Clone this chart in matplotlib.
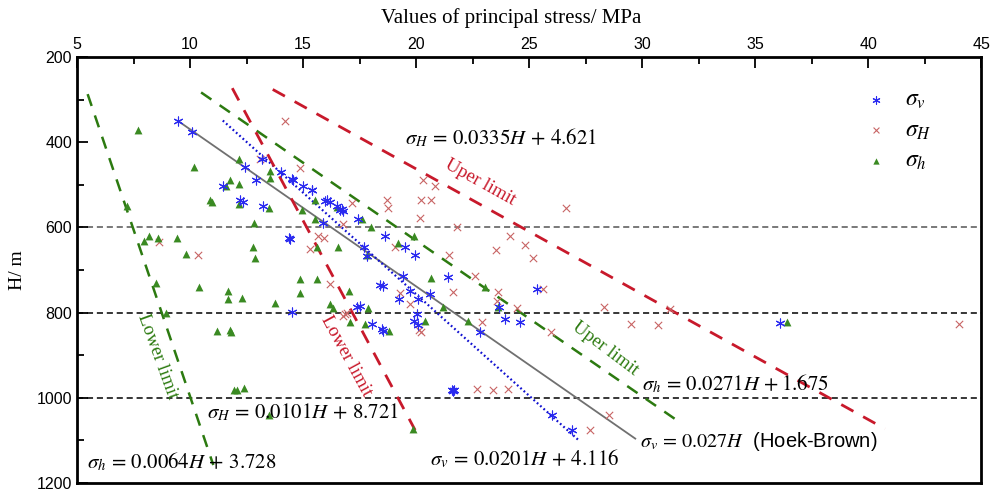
import matplotlib
matplotlib.use("Agg")
import matplotlib.pyplot as plt
import numpy as np

plt.rcParams["mathtext.fontset"] = "stix"
plt.rcParams["font.family"] = "Liberation Sans"

# measured points: (stress in MPa, depth H in m)
sv_x = [9.47, 10.09, 12.42, 11.45, 12.23, 12.33, 12.93, 13.19, 14.04, 14.51, 15.0, 13.23,
        14.37, 14.42, 14.57, 15.41, 15.97, 16.19, 16.49, 16.71, 15.87, 17.45, 18.63, 17.7,
        17.82, 19.51, 19.96, 18.41, 18.52, 19.44, 19.26, 19.73, 20.62, 17.37, 17.52, 14.5,
        15.38, 16.04, 16.64, 16.78, 21.43, 20.1, 20.06, 19.91, 20.1, 18.04, 18.48, 18.55,
        23.68, 23.94, 24.6, 22.83, 21.57, 21.68, 21.62, 25.34, 26.0, 26.89, 36.1]
sv_H = [351, 375, 459, 502, 536, 541, 489, 439, 470, 486, 502, 549,
        624, 628, 488, 513, 537, 540, 549, 556, 589, 580, 620, 647,
        667, 647, 665, 736, 738, 714, 768, 749, 757, 788, 784, 798,
        511, 535, 559, 562, 716, 768, 803, 819, 829, 827, 839, 843,
        788, 815, 821, 845, 981, 983, 985, 745, 1041, 1075, 825]

sH_x = [14.19, 10.34, 8.61, 13.11, 14.85, 15.68, 15.93, 15.31, 16.19, 16.78, 20.33, 20.84,
        18.7, 18.74, 20.2, 20.65, 20.18, 17.15, 16.75, 19.07, 21.8, 24.16, 24.82, 23.52,
        21.47, 22.61, 21.65, 23.64, 26.64, 25.19, 25.63, 23.57, 24.46, 28.32, 31.24, 29.5,
        30.72, 25.96, 28.55, 22.9, 27.7, 44.03, 22.68, 23.39, 24.08, 20.15, 20.22, 19.73,
        16.86, 19.3, 16.93]
sH_H = [351, 665, 634, 439, 460, 620, 626, 650, 732, 807, 489, 502,
        535, 554, 535, 535, 579, 542, 591, 647, 599, 620, 641, 653,
        665, 715, 751, 751, 554, 673, 745, 772, 790, 786, 792, 827,
        829, 845, 1040, 821, 1075, 827, 979, 981, 979, 840, 845, 780,
        804, 754, 800]

sh_x = [7.7, 10.16, 12.15, 11.78, 11.6, 12.15, 13.53, 13.56, 10.87, 10.97, 12.18, 13.51,
        12.82, 7.21, 8.17, 7.95, 8.6, 9.42, 9.84, 12.79, 12.89, 10.38, 11.66, 12.3,
        11.66, 14.85, 8.5, 11.19, 11.76, 11.8, 8.95, 11.93, 12.1, 12.37, 13.48, 17.05,
        16.19, 16.34, 17.89, 17.08, 17.74, 18.82, 20.4, 21.2, 22.31, 19.85, 23.64, 15.53,
        16.49, 17.6, 17.99, 19.92, 19.22, 17.82, 16.53, 15.63, 14.87, 15.63, 23.05, 20.66,
        14.96, 15.53, 13.76, 36.4]
sh_H = [372, 459, 439, 489, 502, 499, 468, 484, 535, 541, 546, 554,
        589, 549, 620, 632, 624, 626, 663, 647, 671, 739, 749, 765,
        767, 755, 731, 843, 840, 845, 801, 981, 981, 977, 1040, 749,
        780, 790, 790, 823, 827, 843, 819, 788, 819, 1074, 788, 536,
        552, 580, 599, 620, 637, 665, 647, 647, 722, 722, 741, 718,
        558, 580, 778, 823]

# fitted / limit lines, end points (MPa, m)
hb_x, hb_H = [9.47, 29.7], [350, 1096]
fit_v_x, fit_v_H = [11.45, 27.2], [349, 1100]
up_h_x, up_h_H = [10.49, 31.68], [283, 1058]
low_h_x, low_h_H = [5.47, 11.03], [287, 1158]
up_H_x, up_H_H = [13.66, 40.75], [276, 1073]
low_H_x, low_H_H = [11.87, 19.96], [273, 1076]

ref_depths = [600, 800, 1000]

RED = "#c8192b"
GREEN = "#2c7a10"


def main():
    fig = plt.figure(figsize=(9.95, 4.9), dpi=100)
    ax = fig.add_axes([0.0774, 0.0145, 0.9086, 0.869])

    for d, c in zip(ref_depths, ["#555555", "black", "black"]):
        ax.axhline(d, color=c, lw=1.1, ls=(0, (4, 2.5)), zorder=1)

    ax.plot(hb_x, hb_H, color="#707070", lw=1.3, zorder=2)
    ax.plot(fit_v_x, fit_v_H, color="#1010d0", lw=1.6, ls=(0, (0.8, 1.2)), zorder=2)
    ax.plot(up_h_x, up_h_H, color=GREEN, lw=1.8, ls=(0, (5, 4)), zorder=2)
    ax.plot(low_h_x, low_h_H, color=GREEN, lw=1.8, ls=(0, (5, 4)), zorder=2)
    ax.plot(up_H_x, up_H_H, color=RED, lw=2.0, ls=(0, (5, 4)), zorder=2)
    ax.plot(low_H_x, low_H_H, color=RED, lw=2.0, ls=(0, (5, 4)), zorder=2)

    ax.scatter(sv_x, sv_H, marker=(6, 2, 0), s=42, color="#2a2af0", lw=0.8,
               label=r"$\sigma_v$", zorder=4)
    ax.scatter(sH_x, sH_H, marker="x", s=28, color="#c86464", lw=0.8,
               label=r"$\sigma_H$", zorder=3)
    ax.scatter(sh_x, sh_H, marker="^", s=32, color="#3a8a22", lw=0,
               label=r"$\sigma_h$", zorder=3)

    serif = "Liberation Serif"
    eq = dict(fontsize=15, zorder=5, ha="left", va="center")
    ax.text(19.5, 390, r"$\sigma_H\,=\,0.0335H\,+\,4.621$", **eq)
    ax.text(29.99, 967, r"$\sigma_h\,=\,0.0271H\,+1.675$", **eq)
    ax.text(10.74, 1033, r"$\sigma_H\,=\,0.0101H\,+\,8.721$", **eq)
    ax.text(5.46, 1150, r"$\sigma_h\,=\,0.0064H\,+\,3.728$", **eq)
    ax.text(20.62, 1143, r"$\sigma_v\,=\,0.0201H\,+\,4.116$", **eq)
    ax.text(29.9, 1103, r"$\sigma_v\,=\,0.027H$  (Hoek-Brown)", fontsize=14.5, zorder=5,
            ha="left", va="center")

    ax.text(22.83, 495, "Uper limit", color=RED, rotation=-29, ha="center", va="center",
            family=serif, fontsize=13.5)
    ax.text(28.36, 885, "Uper limit", color=GREEN, rotation=-37, ha="center", va="center",
            family=serif, fontsize=13.5)
    ax.text(8.54, 902, "Lower limit", color=GREEN, rotation=-70, ha="center", va="center",
            family=serif, fontsize=13.5)
    ax.text(16.9, 902, "Lower limit", color=RED, rotation=-61.5, ha="center", va="center",
            family=serif, fontsize=13.5)

    ax.set_xlim(5, 45)
    ax.set_ylim(1200, 200)
    ax.xaxis.tick_top()
    ax.xaxis.set_label_position("top")
    ax.set_xticks(np.arange(5, 46, 5))
    ax.set_xticks(np.arange(7.5, 45, 5), minor=True)
    ax.set_yticks(np.arange(200, 1201, 200))
    ax.set_yticks(np.arange(300, 1200, 200), minor=True)
    ax.tick_params(which="both", direction="in", top=True, bottom=False, right=False,
                   left=True, width=1.3, labelsize=11.5)
    ax.tick_params(which="major", length=8)
    ax.tick_params(which="minor", length=5)
    for s in ax.spines.values():
        s.set_linewidth(2)

    ax.set_xlabel("Values of principal stress/ MPa", family=serif, fontsize=15,
                  labelpad=10, x=0.48)
    ax.set_ylabel("H/ m", family=serif, fontsize=14, labelpad=8)

    ax.legend(loc="upper left", bbox_to_anchor=(0.845, 0.975), frameon=False,
              fontsize=17, handletextpad=0.6, labelspacing=0.35, markerscale=0.8,
              handlelength=1.2)

    fig.savefig("out.png", dpi=100)


if __name__ == "__main__":
    main()
